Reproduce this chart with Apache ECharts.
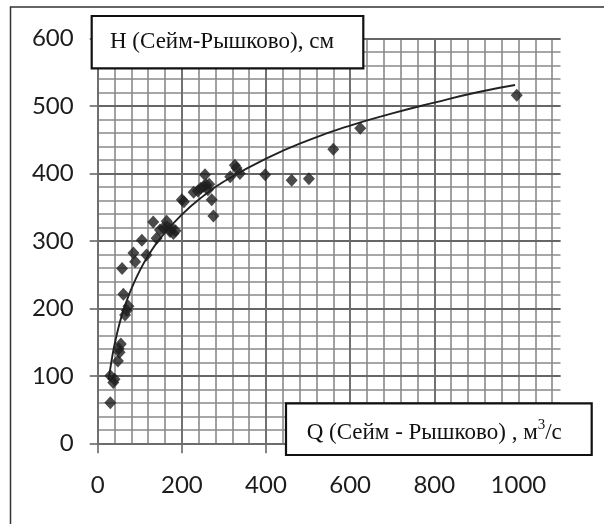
<!DOCTYPE html>
<html>
<head>
<meta charset="utf-8">
<script src="https://cdn.jsdelivr.net/npm/echarts@6/dist/echarts.min.js"></script>
<style>
html,body{margin:0;padding:0;background:#fff;}
#chart{width:604px;height:524px;}
</style>
</head>
<body>
<div id="chart"></div>
<script>
// Observed points: discharge Q (m3/s) and stage H (cm)
var pointsQ = [30,30,37,40,48,52,55,50,58,61,65,69,73,85,89,105,116,132,140,148,156,165,164,172,176,180,185,200,205,228,238,245,252,258,255,265,262,271,275,315,326,330,338,398,461,502,560,624,996];
var pointsH = [60,100,90,95,122,135,147,140,259,221,190,197,203,282,269,301,279,328,304,316,319,321,329,314,319,311,315,361,358,372,374,378,381,383,398,384,376,361,337,395,412,408,400,398,390,392,436,467,516];
// Trend curve
var curveQ = [26,30,35,40,50,60,70,80,100,120,150,200,250,300,400,500,600,700,800,900,992];
var curveH = [94,111,130,146,173,195,213,229,256,278,305,339,366,388,422,449,471,489,505,520,531];
// Tick labels
var xTicks = [0,200,400,600,800,1000];
var yTicks = [0,100,200,300,400,500,600];
var yTitle = 'H (Сейм-Рышково), см';
var xTitleMain = 'Q (Сейм - Рышково) , м';
var xTitleSup = '3';
var xTitleEnd = '/с';

var scatterData = pointsQ.map(function(q,i){return [q, pointsH[i]];});
var curveData = curveQ.map(function(q,i){return [q, curveH[i]];});

var chart = echarts.init(document.getElementById('chart'), null, {renderer:'canvas'});
var labelFont = {fontFamily:'Lato', fontSize:24, color:'#1c1c1c'};
function fmt(v){ return String(v); }
var option = {
  backgroundColor:'#ffffff',
  animation:false,
  grid:{left:97.7, right:43.5, top:38.5, bottom:80.7, containLabel:false},
  xAxis:[{
    type:'value', min:0, max:1100, interval:200, z:1,
    axisLine:{show:true, onZero:false, lineStyle:{color:'#707070', width:1.7}},
    axisTick:{show:true, inside:false, length:10, customValues:xTicks, lineStyle:{color:'#707070', width:1.7}},
    axisLabel:Object.assign({show:true, margin:30, customValues:xTicks, formatter:fmt}, labelFont),
    splitLine:{show:true, showMaxLine:false, lineStyle:{color:'#6c6c6c', width:1.8}}
  },{
    type:'value', min:0, max:1100, interval:40, position:'bottom', z:0,
    axisLine:{show:false}, axisTick:{show:false}, axisLabel:{show:false},
    splitLine:{show:true, showMaxLine:false, lineStyle:{color:'#8a8a8a', width:1.6}}
  }],
  yAxis:[{
    type:'value', min:0, max:600, interval:100, z:1,
    axisLine:{show:true, onZero:false, lineStyle:{color:'#707070', width:1.7}},
    axisTick:{show:true, inside:false, length:8, customValues:yTicks, lineStyle:{color:'#707070', width:1.7}},
    axisLabel:Object.assign({show:true, margin:24, customValues:yTicks, formatter:fmt}, labelFont),
    splitLine:{show:true, lineStyle:{color:'#666666', width:1.9}}
  },{
    type:'value', min:0, max:600, interval:20, position:'left', z:0,
    axisLine:{show:false}, axisTick:{show:false}, axisLabel:{show:false},
    splitLine:{show:true, lineStyle:{color:'#8a8a8a', width:1.6}}
  }],
  series:[{
    type:'line', data:curveData, smooth:true, showSymbol:false, symbol:'none',
    lineStyle:{color:'#222222', width:1.9}, z:3
  },{
    type:'scatter', data:scatterData, symbol:'diamond', symbolSize:[12,13],
    itemStyle:{color:'#1e1e1e'}, z:4
  }],
  graphic:[
    {type:'rect', shape:{x:10.5, y:7, width:640, height:560}, style:{fill:null, stroke:'#333333', lineWidth:1.5}, z:10},
    {type:'rect', shape:{x:91.7, y:16, width:271.6, height:52.3}, style:{fill:'#ffffff', stroke:'#111111', lineWidth:2.2}, z:20},
    {type:'text', x:110, y:42, style:{text:yTitle, font:'23px "Liberation Serif"', fill:'#111111', textVerticalAlign:'middle', textAlign:'left'}, z:21},
    {type:'rect', shape:{x:286, y:403.3, width:305.7, height:51.7}, style:{fill:'#ffffff', stroke:'#111111', lineWidth:2.2}, z:20},
    {type:'text', x:306.7, y:431, style:{
      text:'{m|'+xTitleMain+'}{s|'+xTitleSup+'}{m|'+xTitleEnd+'}',
      verticalAlign:'middle', align:'left',
      rich:{
        m:{fontFamily:'Liberation Serif', fontSize:23, fill:'#111111', color:'#111111', verticalAlign:'bottom', lineHeight:26},
        s:{fontFamily:'Liberation Serif', fontSize:15, fill:'#111111', color:'#111111', verticalAlign:'top', lineHeight:26}
      }
    }, z:21}
  ]
};
chart.setOption(option);
</script>
</body>
</html>
